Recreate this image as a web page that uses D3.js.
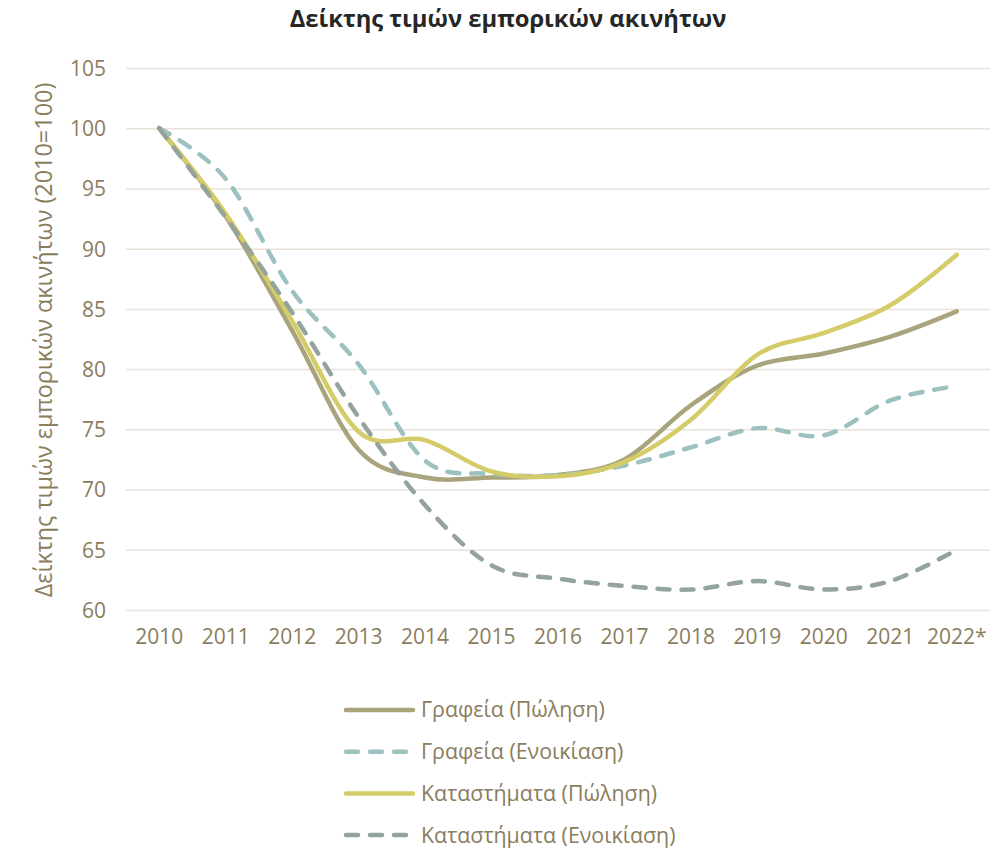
<!DOCTYPE html>
<html><head><meta charset="utf-8">
<script src="https://cdn.jsdelivr.net/npm/d3@7"></script>
<style>body{margin:0;background:#fff}svg{display:block}</style>
</head><body>
<svg id="c" width="997" height="848"></svg>
<script>
const years = ["2010","2011","2012","2013","2014","2015","2016","2017","2018","2019","2020","2021","2022*"];
const officesSale = [100,92.7,83.2,73.3,71.0,71.0,71.2,72.5,77.0,80.3,81.3,82.7,84.8];
const officesRent = [100,95.8,86.5,80.4,72.4,71.3,71.2,72.0,73.5,75.1,74.5,77.4,78.6];
const shopsSale   = [100,92.9,84.0,74.8,74.1,71.5,71.1,72.3,75.8,81.2,83.0,85.3,89.5];
const shopsRent   = [100,92.6,84.7,76.0,68.7,63.7,62.6,62.0,61.7,62.4,61.7,62.4,65.0];
const seriesNames = ["Γραφεία (Πώληση)","Γραφεία (Ενοικίαση)","Καταστήματα (Πώληση)","Καταστήματα (Ενοικίαση)"];
const yTicks = [60,65,70,75,80,85,90,95,100,105];
const title = "Δείκτης τιμών εμπορικών ακινήτων";
const yTitle = "Δείκτης τιμών εμπορικών ακινήτων (2010=100)";

const series = [
  {name: seriesNames[0], values: officesSale, color: "#a9a47c", dash: null},
  {name: seriesNames[1], values: officesRent, color: "#9cc1c0", dash: "12 12"},
  {name: seriesNames[2], values: shopsSale, color: "#d4cc68", dash: null},
  {name: seriesNames[3], values: shopsRent, color: "#94a39b", dash: "12 12"}
];

const svg = d3.select("#c");
const font = "'Open Sans', sans-serif";
const txt = "#8a7d5d";

function fitSize(str, weight, target){
  const tmp = svg.append("text").attr("font-family",font).attr("font-weight",weight).attr("font-size",20).text(str);
  const w = tmp.node().getComputedTextLength();
  tmp.remove();
  return 20 * target / w;
}
const tickFs = fitSize("2010", "normal", 48);
const legFs = fitSize(seriesNames[0], "normal", 184);
const ytFs = fitSize(yTitle, "normal", 515);
const titleFs = fitSize(title, "bold", 437);

const x = d3.scaleBand().domain(years).range([126, 990]);
const y = d3.scaleLinear().domain([60, 105]).range([610, 68]);

svg.append("text").attr("x", 508).attr("y", 27).attr("text-anchor","middle")
  .attr("font-family", font).attr("font-weight","bold").attr("font-size", titleFs)
  .attr("fill","#262626").text(title);

const gy = svg.append("g")
  .call(d3.axisLeft(y).tickValues(yTicks).tickSize(0).tickPadding(0).tickFormat(d3.format("d")));
gy.select(".domain").remove();
gy.selectAll(".tick line").remove();
gy.selectAll(".tick").each(function(d){
  d3.select(this).append("line").attr("x1",126).attr("x2",990).attr("stroke","#e7e2da").attr("stroke-width",1.5);
});
gy.selectAll(".tick text").attr("x",106).attr("dy","0.35em").attr("text-anchor","end")
  .attr("font-family",font).attr("font-size",tickFs).attr("fill",txt);

const gx = svg.append("g").attr("transform","translate(0,629)")
  .call(d3.axisBottom(x).tickSize(0).tickPadding(0));
gx.select(".domain").remove();
gx.selectAll(".tick text").attr("dy","0.71em").attr("font-family",font).attr("font-size",tickFs).attr("fill",txt);

svg.append("text").attr("transform","translate(52,340) rotate(-90)").attr("text-anchor","middle")
  .attr("font-family",font).attr("font-size",ytFs).attr("fill",txt).text(yTitle);

const line = d3.line().x((d,i)=>x(years[i]) + x.bandwidth()/2).y(d=>y(d)).curve(d3.curveCardinal.tension(0));
series.forEach(s=>{
  svg.append("path").datum(s.values).attr("d",line).attr("fill","none")
    .attr("stroke",s.color).attr("stroke-width",4.5)
    .attr("stroke-linecap","round")
    .attr("stroke-dasharray", s.dash);
});

const lg = svg.append("g");
series.forEach((s,i)=>{
  const yy = 710 + i*41.7;
  lg.append("line").attr("x1",346).attr("x2",413).attr("y1",yy).attr("y2",yy)
    .attr("stroke",s.color).attr("stroke-width",4.5).attr("stroke-linecap","round")
    .attr("stroke-dasharray", s.dash);
  lg.append("text").attr("x",421).attr("y",yy).attr("dy","0.35em")
    .attr("font-family",font).attr("font-size",legFs).attr("fill",txt).text(s.name);
});
</script>
</body></html>
